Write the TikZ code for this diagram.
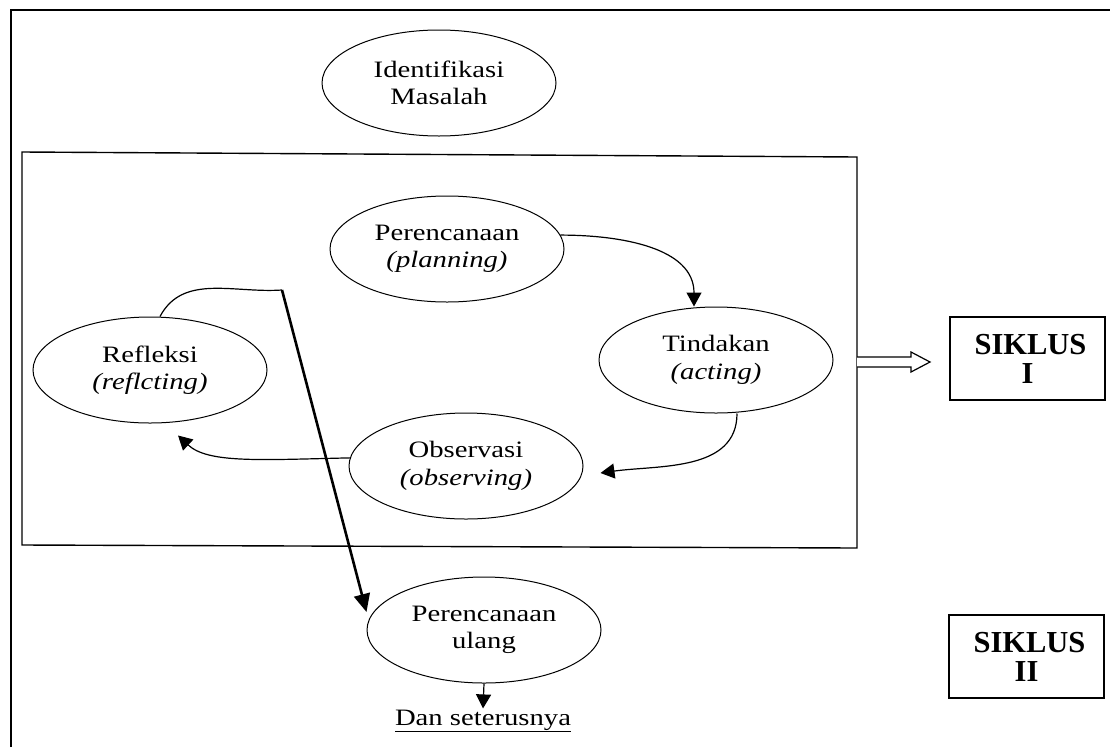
\documentclass[tikz,border=0pt]{standalone}
\usepackage{fontspec}
\setmainfont{Liberation Serif}
\usetikzlibrary{shapes.geometric,arrows.meta,calc}
\newcommand\sx[1]{\scalebox{1.22}[1]{#1}}
\tikzset{
  ell/.style={draw, ellipse, minimum width=234pt, minimum height=106pt, inner sep=0pt,
    line width=1pt, align=center, font=\fontsize{23.5}{27.5}\selectfont},
  sbox/.style={draw, line width=1.3pt, minimum width=155pt, minimum height=83pt, inner sep=0pt,
    align=center, font=\fontsize{30.5}{29}\selectfont\bfseries},
  conn/.style={line width=1.2pt, -{Triangle[length=14pt,width=15pt]}},
  bigconn/.style={line width=2.6pt, -{Triangle[length=18pt,width=16pt]}},
  frame/.style={line width=1.6pt},
}
\begin{document}
\begin{tikzpicture}[x=1pt,y=-1pt]
\useasboundingbox (0,0) rectangle (1110,747);
% outer frame
\draw[frame] (11,747) -- (11,10) -- (1110,10);
% inner box
\coordinate (b1) at (22,152);
\coordinate (b2) at (857,157);
\coordinate (b3) at (857,548);
\coordinate (b4) at (22,545);
\draw[frame, line width=1.4pt] (b1) -- (b2) -- (b3) -- (b4) -- cycle;

\node[ell] (iden) at (439,83) {\sx{Identifikasi}\\\sx{Masalah}};
\node[ell] (plan) at (447,249) {\sx{Perencanaan}\\\sx{\textit{(planning)}}};
\node[ell] (tind) at (716,360) {\sx{Tindakan}\\\sx{\textit{(acting)}}};
\node[ell] (refl) at (150,370) {\sx{Refleksi}\\\sx{\textit{(reflcting)}}};
\node[ell] (obs) at (466,466) {\sx{Observasi}\\\sx{\textit{(observing)}}};
\node[ell] (ulang) at (484,630) {\sx{Perencanaan}\\\sx{ulang}};
\node[anchor=base, inner sep=1pt, font=\fontsize{23.5}{27.5}\selectfont] (dan) at (483,725)
  {\sx{\underline{Dan seterusnya}}};

\node[sbox] (s1) at (1027.5,358.5) {\hspace*{6pt}SIKLUS\\I};
\node[sbox] (s2) at (1026.5,656.5) {\hspace*{6pt}SIKLUS\\II};

% cycle arrows
\draw[conn] (plan.7) to[out=0,in=90] ([xshift=-22pt]tind.north);
\draw[conn] ([xshift=21pt]tind.south) to[out=-90,in=8] ([xshift=17pt,yshift=-7pt]obs.east);
\draw[conn] (obs.176) .. controls +(-90,2) and +(30,28) .. ([xshift=28pt,yshift=-12pt]refl.south);
\coordinate (k) at (282,290);
\draw[line width=1.2pt] ([xshift=10pt]refl.north) to[out=62,in=184] (k);
\draw[bigconn] (k) -- ([yshift=18pt]ulang.west);
\draw[conn] (ulang.south) -- (dan.north);

% hollow arrow to SIKLUS I
\coordinate (ha) at (857,362);
\draw[line width=1.2pt, fill=white] (ha) ++(0,-5) -- ++(54,0) -- ++(0,-5) -- (930,362)
  -- (911,372) -- ++(0,-5) -- ++(-54,0);
\end{tikzpicture}
\end{document}
